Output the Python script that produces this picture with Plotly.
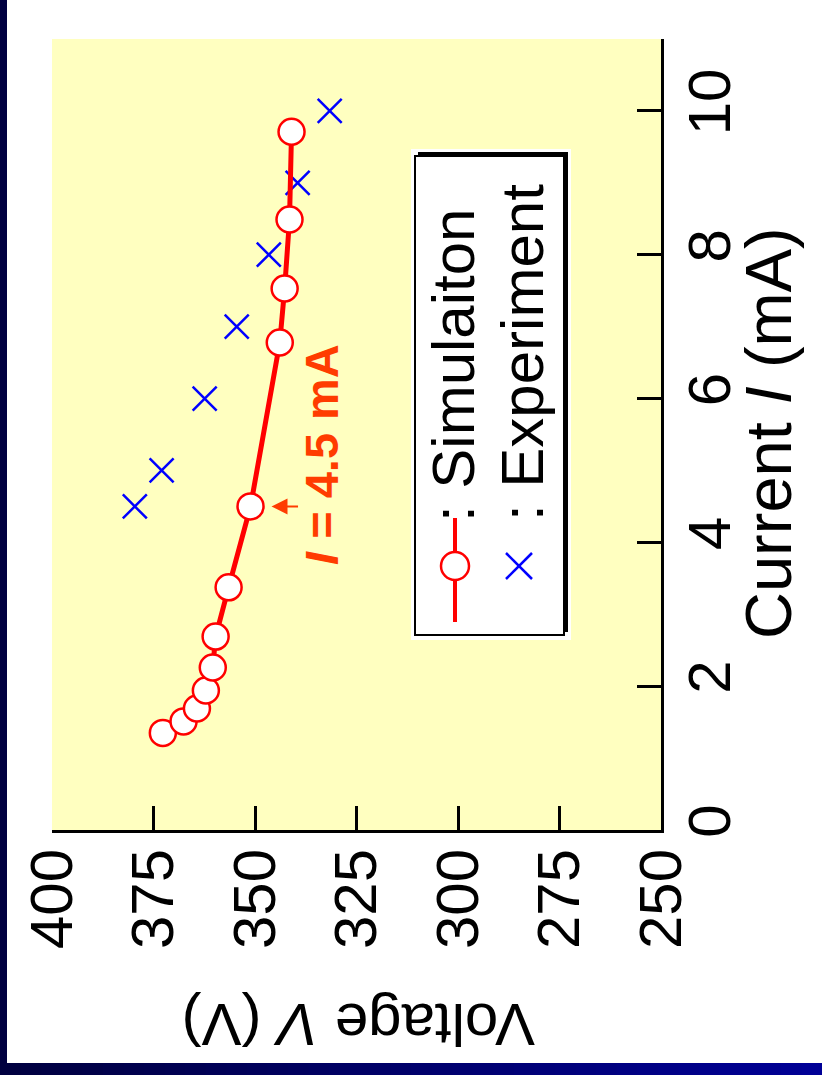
import plotly.graph_objects as go

# Simulated and measured operating points (current in mA, voltage in V)
sim_current = [1.35, 1.51, 1.69, 1.94, 2.26, 2.69, 3.375, 4.5, 6.78, 7.53, 8.49, 9.71]
sim_voltage = [372.7, 367.6, 364.3, 362.1, 360.4, 359.7, 356.5, 351.1, 343.9, 342.7, 341.5, 341.0]
exp_current = [4.5, 5.0, 6.0, 7.0, 8.0, 9.0, 10.0]
exp_voltage = [379.6, 373.0, 362.4, 354.5, 346.6, 339.5, 331.6]
voltage_ticks = [400, 375, 350, 325, 300, 275, 250]
current_ticks = [0, 2, 4, 6, 8, 10]
marked_current = 4.5

# Page geometry
W, H = 822, 1075
L, R, T, B = 52, 161, 39, 245
PW, PH = W - L - R, H - T - B


def px(x):
    return (x - L) / PW


def py(y):
    return (H - B - y) / PH


FONT = "Arial, Liberation Sans, sans-serif"
ORANGE = "#FF3C00"

fig = go.Figure()

fig.add_trace(go.Scatter(
    x=exp_voltage, y=exp_current, mode="markers",
    marker=dict(symbol="x-thin", size=24, line=dict(color="#0000FF", width=2.5)),
    showlegend=False,
))
fig.add_trace(go.Scatter(
    x=sim_voltage, y=sim_current, mode="lines+markers",
    line=dict(color="#FF0000", width=5),
    marker=dict(symbol="circle", size=26, color="white", line=dict(color="#FF0000", width=2.5)),
    showlegend=False,
))

marked_v = sim_voltage[sim_current.index(marked_current)]

shapes = []
# dark frame strips
shapes.append(dict(type="rect", xref="paper", yref="paper", x0=px(0), x1=px(7), y0=py(H), y1=py(0),
                   fillcolor="#000040", line=dict(width=0), layer="above"))
n_seg = 40
for i in range(n_seg):
    t = i / (n_seg - 1)
    blue = int(64 + (150 - 64) * t)
    shapes.append(dict(type="rect", xref="paper", yref="paper",
                       x0=px(W * i / n_seg), x1=px(W * (i + 1) / n_seg + 1),
                       y0=py(H), y1=py(1063),
                       fillcolor=f"rgb(0,0,{blue})", line=dict(width=0), layer="above"))

# legend box with drop shadow
shapes.append(dict(type="rect", xref="paper", yref="paper", x0=px(411), x1=px(571), y0=py(640), y1=py(149),
                   fillcolor="white", line=dict(width=0)))
shapes.append(dict(type="rect", xref="paper", yref="paper", x0=px(418), x1=px(568), y0=py(632), y1=py(152),
                   fillcolor="black", line=dict(width=0)))
shapes.append(dict(type="rect", xref="paper", yref="paper", x0=px(415), x1=px(564), y0=py(635), y1=py(156),
                   fillcolor="white", line=dict(color="black", width=2)))
# legend samples
shapes.append(dict(type="line", xref="paper", yref="paper", x0=px(455), x1=px(455), y0=py(622), y1=py(518),
                   line=dict(color="#FF0000", width=4)))
shapes.append(dict(type="circle", xref="paper", yref="paper", x0=px(441), x1=px(469), y0=py(580), y1=py(552),
                   fillcolor="white", line=dict(color="#FF0000", width=2.5)))
shapes.append(dict(type="line", xref="paper", yref="paper", x0=px(506), x1=px(532), y0=py(553), y1=py(579),
                   line=dict(color="#0000FF", width=2.5)))
shapes.append(dict(type="line", xref="paper", yref="paper", x0=px(506), x1=px(532), y0=py(579), y1=py(553),
                   line=dict(color="#0000FF", width=2.5)))

annotations = [
    dict(xref="paper", yref="paper", x=px(453), y=py(366), text=": Simulaiton", textangle=-90,
         showarrow=False, xanchor="center", yanchor="middle", font=dict(family=FONT, size=60, color="black")),
    dict(xref="paper", yref="paper", x=px(522), y=py(353), text=": Experiment", textangle=-90,
         showarrow=False, xanchor="center", yanchor="middle", font=dict(family=FONT, size=60, color="black")),
    dict(xref="paper", yref="paper", x=px(768), y=py(433), text="Current <i>I</i> (mA)", textangle=-90,
         showarrow=False, xanchor="center", yanchor="middle", font=dict(family=FONT, size=65, color="black")),
    dict(xref="paper", yref="paper", x=px(358), y=py(1025), text="Voltage <i>V</i> (V)", textangle=180,
         showarrow=False, xanchor="center", yanchor="middle", font=dict(family=FONT, size=60, color="black")),
    # marker for the highlighted operating point
    dict(x=marked_v, y=marked_current, xref="x", yref="y", text="", showarrow=True,
         ax=49, ay=0, standoff=21, arrowhead=2, arrowsize=1.6, arrowwidth=2, arrowcolor=ORANGE),
    dict(x=marked_v, y=marked_current, xref="x", yref="y",
         text=f"<b><i>I</i> = {marked_current} mA</b>", textangle=-90, showarrow=False,
         xshift=71, yshift=52, xanchor="center", yanchor="middle",
         font=dict(family=FONT, size=47, color=ORANGE)),
]

fig.update_layout(
    width=W, height=H,
    margin=dict(l=L, r=R, t=T, b=B),
    paper_bgcolor="white",
    plot_bgcolor="#FFFFC0",
    shapes=shapes,
    annotations=annotations,
    xaxis=dict(
        range=[400, 250], tickvals=voltage_ticks, ticktext=[str(v) for v in voltage_ticks],
        ticks="inside", ticklen=24, tickwidth=2.5, tickcolor="black",
        showline=True, linecolor="black", linewidth=3, mirror=False,
        showgrid=False, zeroline=False, tickangle=-90, ticklabelstandoff=-8,
        tickfont=dict(family=FONT, size=60, color="black"),
    ),
    yaxis=dict(
        range=[0, 11], side="right", tickvals=current_ticks,
        ticks="inside", ticklen=24, tickwidth=2.5, tickcolor="black",
        showline=True, linecolor="black", linewidth=3, mirror=False,
        showgrid=False, zeroline=False, tickangle=-90, ticklabelstandoff=-6,
        tickfont=dict(family=FONT, size=60, color="black"),
    ),
)

fig.write_html("out.html")
